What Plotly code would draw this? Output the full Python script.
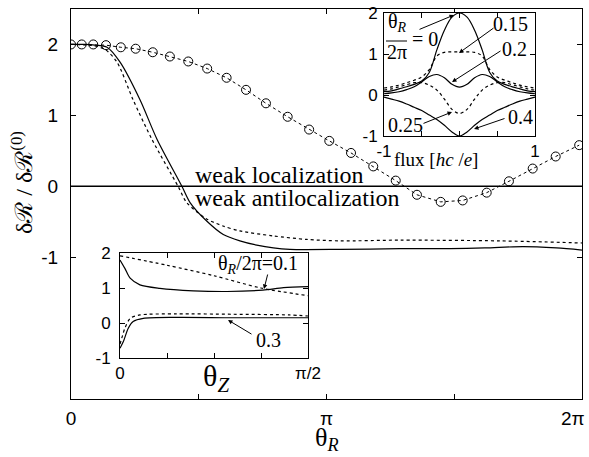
import plotly.graph_objects as go

# ---------------- data ----------------
# main panel (theta_R in units of pi)
circ_x = [0, 0.042, 0.087, 0.137, 0.195, 0.253, 0.320, 0.387, 0.459, 0.533, 0.609, 0.685,
          0.763, 0.848, 0.932, 1.011, 1.096, 1.183, 1.271, 1.354, 1.447, 1.533, 1.627,
          1.714, 1.807, 1.897, 1.989]
circ_y = [2.0, 2.0, 2.0, 1.99, 1.96, 1.94, 1.89, 1.83, 1.76, 1.66, 1.53, 1.36,
          1.17, 0.98, 0.80, 0.64, 0.47, 0.28, 0.08, -0.12, -0.22, -0.20, -0.09,
          0.07, 0.25, 0.42, 0.58]
solid_x = [0, 0.05, 0.094, 0.141, 0.192, 0.27, 0.337, 0.434, 0.466, 0.531, 0.596, 0.661,
           0.727, 0.792, 0.857, 1.053, 1.288, 1.483, 1.62, 1.769, 1.9, 2.0]
solid_y = [2.0, 2.0, 1.99, 1.96, 1.75, 1.22, 0.66, 0.0, -0.23, -0.49, -0.68, -0.77,
           -0.83, -0.87, -0.89, -0.89, -0.88, -0.88, -0.87, -0.85, -0.87, -0.90]
dash_x = [0, 0.074, 0.133, 0.18, 0.243, 0.317, 0.419, 0.453, 0.531, 0.595, 0.661, 0.791,
          0.924, 1.053, 1.288, 1.679, 2.0]
dash_y = [2.0, 1.99, 1.93, 1.75, 1.22, 0.66, 0.0, -0.23, -0.46, -0.56, -0.63, -0.70,
          -0.75, -0.77, -0.76, -0.77, -0.80]

# inset 1: flux dependence
flux = [-1.0, -0.9, -0.8, -0.7, -0.6, -0.5, -0.4, -0.3, -0.2, -0.1, 0.0,
        0.1, 0.2, 0.3, 0.4, 0.5, 0.6, 0.7, 0.8, 0.9, 1.0]
f_000 = [0.08, 0.10, 0.15, 0.20, 0.26, 0.34, 0.55, 1.10, 1.58, 1.90, 2.00,
         1.90, 1.58, 1.10, 0.55, 0.34, 0.26, 0.20, 0.15, 0.10, 0.08]
f_015 = [0.17, 0.20, 0.24, 0.30, 0.36, 0.44, 0.62, 0.95, 1.04, 1.05, 1.05,
         1.05, 1.04, 0.95, 0.62, 0.44, 0.36, 0.30, 0.24, 0.20, 0.17]
f_020 = [0.03, 0.05, 0.08, 0.13, 0.20, 0.32, 0.45, 0.50, 0.42, 0.26, 0.19,
         0.26, 0.42, 0.50, 0.45, 0.32, 0.20, 0.13, 0.08, 0.05, 0.03]
f_025 = [0.12, 0.15, 0.20, 0.25, 0.30, 0.30, 0.24, 0.12, -0.10, -0.35, -0.45,
         -0.35, -0.10, 0.12, 0.24, 0.30, 0.30, 0.25, 0.20, 0.15, 0.12]
f_040 = [-0.05, -0.10, -0.15, -0.22, -0.30, -0.38, -0.49, -0.60, -0.74, -0.90, -1.00,
         -0.90, -0.74, -0.60, -0.49, -0.38, -0.30, -0.22, -0.15, -0.10, -0.05]

# inset 2: theta_Z dependence (theta_Z in units of pi)
z01s_x = [0, 0.013, 0.027, 0.053, 0.106, 0.195, 0.285, 0.38, 0.435, 0.5]
z01s_y = [1.80, 1.56, 1.28, 1.09, 0.99, 0.92, 0.90, 0.94, 1.01, 1.04]
z01d_x = [0, 0.125, 0.25, 0.375, 0.5]
z01d_y = [1.92, 1.65, 1.35, 1.00, 0.78]
z03s_x = [0, 0.009, 0.022, 0.035, 0.062, 0.15, 0.3, 0.5]
z03s_y = [-0.72, -0.53, -0.15, 0.04, 0.13, 0.16, 0.15, 0.15]
z03d_x = [0, 0.007, 0.013, 0.027, 0.053, 0.15, 0.3, 0.45, 0.5]
z03d_y = [-0.60, -0.35, -0.15, 0.13, 0.23, 0.26, 0.25, 0.23, 0.20]

main_xticks = [0, 0.5, 1, 1.5, 2]
main_xtext = ["0", "", "π", "", ""]
main_xlast = "2π"
yticks = [-1, 0, 1, 2]
ytext = ["-1", "0", "1", "2"]
ins1_xticks = [-1, -0.5, 0, 0.5, 1]
ins1_xtext = ["-1", "", "", "", "1"]
ins2_xticks = [0, 0.125, 0.25, 0.375, 0.5]
ins2_xtext = ["0", "", "", "", "π/2"]

# ---------------- figure ----------------
W, H = 589, 457
L, R, T, B = 71, 582, 9, 399
SANS = "Liberation Sans, Arial, sans-serif"
SERIF = "Liberation Serif, Times New Roman, serif"


def px(X):
    return (X - L) / (R - L)


def py(Y):
    return (B - Y) / (B - T)


fig = go.Figure()
lw = 1.2
sm = 0.8
fig.add_trace(go.Scatter(x=solid_x, y=solid_y, mode="lines", line=dict(color="black", width=lw, shape="spline", smoothing=sm), xaxis="x", yaxis="y"))
fig.add_trace(go.Scatter(x=dash_x, y=dash_y, mode="lines", line=dict(color="black", width=lw, dash="3px,3px", shape="spline", smoothing=sm), xaxis="x", yaxis="y"))
fig.add_trace(go.Scatter(x=circ_x, y=circ_y, mode="lines+markers", line=dict(color="black", width=1, dash="3px,3px"),
                         marker=dict(symbol="circle-open", size=9, color="black", line=dict(width=1, color="black")), xaxis="x", yaxis="y"))

for ys, d in [(f_000, "solid"), (f_015, "3px,3px"), (f_020, "solid"), (f_025, "3px,3px"), (f_040, "solid")]:
    fig.add_trace(go.Scatter(x=flux, y=ys, mode="lines", line=dict(color="black", width=lw, dash=d, shape="spline", smoothing=1.0), xaxis="x2", yaxis="y2"))

for xs, ys, d in [(z01s_x, z01s_y, "solid"), (z01d_x, z01d_y, "3px,3px"), (z03s_x, z03s_y, "solid"), (z03d_x, z03d_y, "3px,3px")]:
    fig.add_trace(go.Scatter(x=xs, y=ys, mode="lines", line=dict(color="black", width=lw, dash=d, shape="spline", smoothing=0.8), xaxis="x3", yaxis="y3"))

ax_common = dict(showgrid=False, zeroline=False, showline=True, linecolor="black", linewidth=1, automargin=False,
                 mirror="ticks", ticks="inside", tickcolor="black", ticklen=5, tickwidth=1)

fig.update_layout(
    width=W, height=H, showlegend=False,
    margin=dict(l=L, r=W - R, t=T, b=H - B, pad=0),
    paper_bgcolor="white", plot_bgcolor="white",
    xaxis=dict(domain=[0, 1], range=[0, 2], tickvals=main_xticks, ticktext=main_xtext,
               tickfont=dict(family=SANS, size=19, color="black"), ticklabelstandoff=2, **ax_common),
    yaxis=dict(domain=[0, 1], range=[-3, 2.5], tickvals=yticks, ticktext=ytext,
               tickfont=dict(family=SANS, size=19, color="black"), ticklabelstandoff=8, **ax_common),
    xaxis2=dict(domain=[px(384), px(535)], range=[-1, 1], anchor="y2", tickvals=ins1_xticks, ticktext=ins1_xtext,
                tickfont=dict(family=SANS, size=17, color="black"), ticklabelstandoff=0, **ax_common),
    yaxis2=dict(domain=[py(136), py(13)], range=[-1, 2], anchor="x2", tickvals=yticks, ticktext=ytext,
                tickfont=dict(family=SANS, size=17, color="black"), ticklabelstandoff=2, **ax_common),
    xaxis3=dict(domain=[px(120), px(308)], range=[0, 0.5], anchor="y3", tickvals=ins2_xticks, ticktext=ins2_xtext,
                tickfont=dict(family=SANS, size=17, color="black"), ticklabelstandoff=0, **ax_common),
    yaxis3=dict(domain=[py(358), py(253)], range=[-1, 2], anchor="x3", tickvals=yticks, ticktext=ytext,
                tickfont=dict(family=SANS, size=17, color="black"), ticklabelstandoff=5, **ax_common),
)

# zero line
fig.add_shape(type="line", xref="x", yref="y", x0=0, x1=2, y0=0, y1=0, line=dict(color="black", width=1.5))
# fraction bar in inset 1
fig.add_shape(type="line", xref="paper", yref="paper", x0=px(386), x1=px(407), y0=py(41), y1=py(41), line=dict(color="black", width=1))

ann = []


def text(X, Y, s, size, family=SERIF, xanchor="center", yanchor="middle"):
    ann.append(dict(x=px(X), y=py(Y), xref="paper", yref="paper", text=s, showarrow=False,
                    font=dict(family=family, size=size, color="black"), xanchor=xanchor, yanchor=yanchor))


def arrow(X0, Y0, X1, Y1):
    # tail (X0,Y0) -> head (X1,Y1) in pixels
    ann.append(dict(x=px(X1), y=py(Y1), xref="paper", yref="paper", text="", showarrow=True,
                    ax=X0 - X1, ay=Y0 - Y1, axref="pixel", ayref="pixel",
                    arrowhead=2, arrowsize=0.9, arrowwidth=1, arrowcolor="black", standoff=0, startstandoff=0))


# main text
text(573, 418, main_xlast, 19, family=SANS)
text(193, 175, "weak localization", 24, xanchor="left")
text(193, 198, "weak antilocalization", 24, xanchor="left")
text(327, 439, "θ<sub><i>R</i></sub>", 26)
ann.append(dict(x=px(22), y=py(183), xref="paper", yref="paper", text="δℛ / δℛ<sup>(0)</sup>", showarrow=False,
                textangle=-90, font=dict(family=SERIF, size=24, color="black"), xanchor="center", yanchor="middle"))

# inset 1 texts
text(397, 23, "θ<sub><i>R</i></sub>", 20)
text(397, 52, "2π", 20)
text(425, 39, "= 0", 20)
arrow(418, 30, 454, 15)
text(510, 24, "0.15", 20)
arrow(495, 27, 459, 53)
text(514, 49, "0.2", 20)
arrow(502, 50, 452, 82)
text(405, 125, "0.25", 20)
arrow(422, 124, 452, 112)
text(520, 117, "0.4", 20)
arrow(506, 118, 474, 129)
text(436, 159, "flux [<i>hc</i> /<i>e</i>]", 19)

# inset 2 texts
text(258, 264, "θ<sub><i>R</i></sub>/2π=0.1", 20)
arrow(268, 273, 264, 289)
text(268, 340, "0.3", 20)
arrow(253, 335, 228, 320)
text(216, 378, "θ<sub><i>Z</i></sub>", 30)

fig.update_layout(annotations=ann)
fig.write_html("out.html", config={"displayModeBar": False},
               post_script="document.body.style.margin='0';document.body.style.padding='0';")
